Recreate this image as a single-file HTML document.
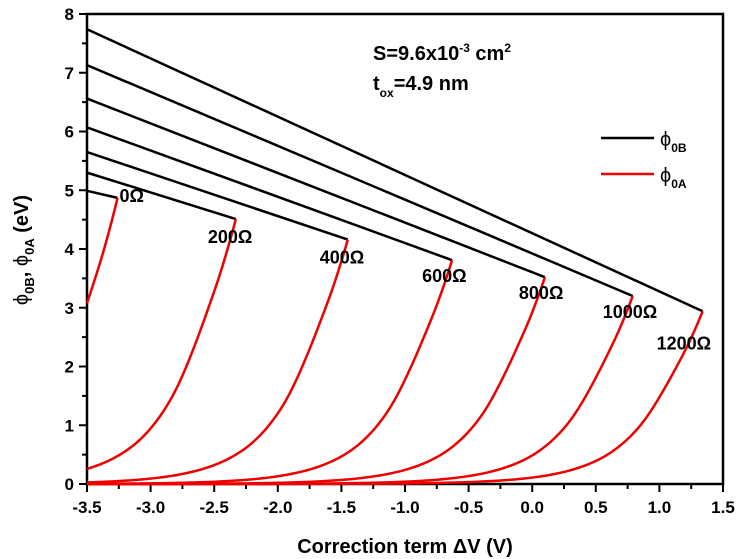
<!DOCTYPE html>
<html><head><meta charset="utf-8"><style>
body{margin:0;background:#fff}
svg{display:block;font-family:"Liberation Sans",Arial,sans-serif;font-weight:bold}
</style></head><body>
<svg id="chart" width="740" height="559">
<g id="axes"></g>
<g id="plot"></g>
<text x="373" y="60" font-size="20">S=9.6x10<tspan dy="-8" font-size="12">-3</tspan><tspan dy="8"> cm</tspan><tspan dy="-8" font-size="12">2</tspan></text>
<text x="373" y="90" font-size="20">t<tspan dy="7" font-size="12">ox</tspan><tspan dy="-7">=4.9 nm</tspan></text>
<g>
<line x1="601" y1="138" x2="654" y2="138" stroke="#000" stroke-width="2.5"/>
<text x="660" y="146" font-size="20" font-weight="normal">ϕ<tspan dy="6" font-size="12" font-weight="bold">0B</tspan></text>
<line x1="601" y1="174" x2="654" y2="174" stroke="#e00" stroke-width="2.5"/>
<text x="660" y="182" font-size="20" font-weight="normal">ϕ<tspan dy="6" font-size="12" font-weight="bold">0A</tspan></text>
</g>
<text x="405" y="553" font-size="20" text-anchor="middle">Correction term ΔV (V)</text>
<text transform="translate(28,250) rotate(-90)" font-size="20" text-anchor="middle"><tspan font-weight="normal">ϕ</tspan><tspan dy="6" font-size="13">0B</tspan><tspan dy="-6">, </tspan><tspan font-weight="normal">ϕ</tspan><tspan dy="6" font-size="13">0A</tspan><tspan dy="-6"> (eV)</tspan></text>
</svg>
<script>
const resistLabels=["0Ω","200Ω","400Ω","600Ω","800Ω","1000Ω","1200Ω"];
const startY=[4.99,5.30,5.65,6.07,6.56,7.13,7.74];
const peakX=[-3.26,-2.33,-1.45,-0.63,0.10,0.79,1.34];
const peakY=[4.87,4.51,4.16,3.81,3.52,3.20,2.94];
const decayDx=[0,0.1,0.23,0.35,0.5,0.62,0.8,1.0,1.17,1.5,2.0,2.5,3.0,4.0,5.0];
const decayFrac=[1,0.83,0.645,0.49,0.33,0.24,0.148,0.088,0.057,0.025,0.0074,0.0022,0.00067,0.00006,0.000005];
const xTicks=[-3.5,-3.0,-2.5,-2.0,-1.5,-1.0,-0.5,0.0,0.5,1.0,1.5];
const yTicks=[0,1,2,3,4,5,6,7,8];
const labelOff=[[2,-4],[-28,16],[-28,16],[-30,14],[-26,14],[-30,14],[-46,30]];
const X0=87,X1=723,Y0=484,Y1=14;
const sx=v=>X0+(v+3.5)/5*(X1-X0);
const sy=v=>Y0-v/8*(Y0-Y1);
const NS="http://www.w3.org/2000/svg";
const axes=document.getElementById('axes'),plot=document.getElementById('plot');
function mk(tag,attrs,parent){const e=document.createElementNS(NS,tag);for(const k in attrs)e.setAttribute(k,attrs[k]);parent.appendChild(e);return e;}
const logF=decayFrac.map(Math.log);
function frac(d){
 let k=0;while(k<decayDx.length-2&&d>decayDx[k+1])k++;
 const x0=decayDx[k],x1=decayDx[k+1],t=(d-x0)/(x1-x0);
 const p0=logF[Math.max(k-1,0)],p1=logF[k],p2=logF[k+1],p3=logF[Math.min(k+2,logF.length-1)];
 const xm=decayDx[Math.max(k-1,0)],xp=decayDx[Math.min(k+2,decayDx.length-1)];
 const m1=(p2-p0)/(x1-xm)*(x1-x0),m2=(p3-p1)/(xp-x0)*(x1-x0);
 const t2=t*t,t3=t2*t;
 return Math.exp((2*t3-3*t2+1)*p1+(t3-2*t2+t)*m1+(-2*t3+3*t2)*p2+(t3-t2)*m2);
}
const frame=mk('rect',{x:X0,y:Y1,width:X1-X0,height:Y0-Y1,fill:'none',stroke:'#000','stroke-width':2.5},axes);


for(let i=0;i<xTicks.length;i++){
 const x=sx(xTicks[i]);
 const t=mk('line',{x1:x,y1:Y0,x2:x,y2:Y0+8,stroke:'#000','stroke-width':2},axes);
 
 
 if(i<xTicks.length-1){const xm=sx(xTicks[i]+0.25);const m=mk('line',{x1:xm,y1:Y0,x2:xm,y2:Y0+5,stroke:'#000','stroke-width':2},axes);
 
 }
 const l=mk('text',{x:x,y:Y0+29,'font-size':17,'text-anchor':'middle'},axes);l.textContent=xTicks[i].toFixed(1);
 
 
}
for(let i=0;i<yTicks.length;i++){
 const y=sy(yTicks[i]);
 const t=mk('line',{x1:X0-8,y1:y,x2:X0,y2:y,stroke:'#000','stroke-width':2},axes);
 
 
 if(i<yTicks.length-1){const ym=sy(yTicks[i]+0.5);const m=mk('line',{x1:X0-5,y1:ym,x2:X0,y2:ym,stroke:'#000','stroke-width':2},axes);
 
 }
 const l=mk('text',{x:X0-13,y:y+6,'font-size':17,'text-anchor':'end'},axes);l.textContent=yTicks[i];
 
 
}
for(let i=0;i<peakX.length;i++){
 const b=mk('line',{x1:sx(-3.5),y1:sy(startY[i]),x2:sx(peakX[i]),y2:sy(peakY[i]),stroke:'#000','stroke-width':2.5},plot);
 
 
 const pts=[];
 const maxD=Math.min(peakX[i]+3.5,decayDx[decayDx.length-1]);
 const N=120;
 for(let j=0;j<=N;j++){
  const d=maxD*j/N;
  pts.push(sx(peakX[i]-d).toFixed(2)+','+sy(peakY[i]*frac(d)).toFixed(2));
 }
 const r=mk('polyline',{points:pts.join(' '),fill:'none',stroke:'#e00','stroke-width':2.5,'stroke-linejoin':'round'},plot);
 
 
 const lb=mk('text',{x:sx(peakX[i])+labelOff[i][0],y:sy(peakY[i])+labelOff[i][1]+8,'font-size':18},plot);lb.textContent=resistLabels[i];
 
 
}
</script>
</body></html>
